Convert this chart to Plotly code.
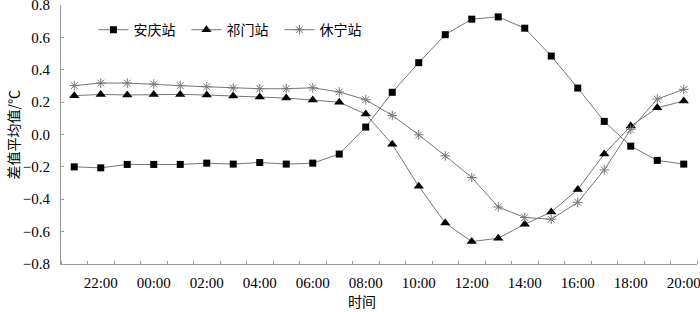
import plotly.graph_objects as go

hours = ["21:00", "22:00", "23:00", "00:00", "01:00", "02:00", "03:00", "04:00",
         "05:00", "06:00", "07:00", "08:00", "09:00", "10:00", "11:00", "12:00",
         "13:00", "14:00", "15:00", "16:00", "17:00", "18:00", "19:00", "20:00"]

anqing = [-0.200, -0.206, -0.185, -0.185, -0.185, -0.177, -0.183, -0.173,
          -0.183, -0.177, -0.121, 0.046, 0.261, 0.444, 0.617, 0.713,
          0.727, 0.657, 0.485, 0.287, 0.081, -0.072, -0.160, -0.183]

qimen = [0.240, 0.248, 0.244, 0.248, 0.248, 0.244, 0.238, 0.232,
         0.225, 0.213, 0.199, 0.126, -0.061, -0.320, -0.547, -0.662,
         -0.641, -0.555, -0.479, -0.340, -0.120, 0.052, 0.165, 0.207]

xiuning = [0.302, 0.318, 0.318, 0.312, 0.302, 0.295, 0.287, 0.283,
           0.283, 0.289, 0.263, 0.215, 0.118, -0.002, -0.132, -0.266,
           -0.448, -0.513, -0.524, -0.419, -0.219, 0.032, 0.219, 0.279]

series_names = ["安庆站", "祁门站", "休宁站"]
y_ticks = [-0.8, -0.6, -0.4, -0.2, 0.0, 0.2, 0.4, 0.6, 0.8]

x = list(range(len(hours)))
label_idx = [i for i, h in enumerate(hours) if int(h[:2]) % 2 == 0]

SERIF = "Liberation Serif, DejaVu Serif, serif"
CJK = "Noto Sans CJK SC"
LINE = "#767676"

fig = go.Figure()
fig.add_trace(go.Scatter(x=x, y=anqing, name=series_names[0], mode="lines+markers",
                         line=dict(color=LINE, width=1),
                         marker=dict(symbol="square", size=7, color="black")))
fig.add_trace(go.Scatter(x=x, y=qimen, name=series_names[1], mode="lines+markers",
                         line=dict(color=LINE, width=1),
                         marker=dict(symbol="triangle-up", size=9, color="black")))
fig.add_trace(go.Scatter(x=x, y=xiuning, name=series_names[2], mode="lines+markers",
                         line=dict(color=LINE, width=1),
                         marker=dict(symbol="asterisk-open", size=8,
                                     line=dict(color="#444444", width=1))))

fig.update_layout(
    width=700, height=312,
    margin=dict(l=61, r=3, t=5, b=48.4),
    paper_bgcolor="white", plot_bgcolor="white",
    font=dict(family=SERIF, size=15, color="black"),
    showlegend=True,
    legend=dict(orientation="h", x=0.051, y=0.903, xanchor="left", yanchor="middle",
                font=dict(family=CJK, size=14, color="black"),
                bgcolor="rgba(0,0,0,0)", entrywidth=48),
    xaxis=dict(range=[-0.5, len(hours) - 0.5], showgrid=False, zeroline=False,
               showline=True, linecolor="#999999", linewidth=1, automargin=False,
               tickmode="array", tickvals=label_idx,
               ticktext=[hours[i] for i in label_idx],
               ticks="", ticklabelstandoff=5, ticklabeloverflow="allow",
               tickfont=dict(family=SERIF, size=15, color="black"),
               minor=dict(tickmode="array",
                          tickvals=[i - 0.5 for i in range(len(hours) + 1)],
                          ticks="inside", ticklen=3, tickcolor="#999999")),
    yaxis=dict(range=[-0.8005, 0.8005], showgrid=False, zeroline=False,
               showline=True, linecolor="#999999", linewidth=1, automargin=False,
               tickmode="array", tickvals=y_ticks,
               ticktext=[("\u2212" if v < 0 else "") + f"{abs(v):.1f}" for v in y_ticks],
               ticks="inside", ticklen=3, tickcolor="#999999",
               ticklabelstandoff=7, ticklabeloverflow="allow",
               tickfont=dict(family=SERIF, size=15, color="black")),
    annotations=[
        dict(text="差值平均值/℃", xref="paper", yref="paper", x=-0.077, y=0.5,
             xanchor="center", yanchor="middle", textangle=-90, showarrow=False,
             font=dict(family=CJK, size=14, color="black")),
        dict(text="时间", xref="paper", yref="paper", x=(362 - 61) / 636, y=-0.141,
             xanchor="center", yanchor="middle", showarrow=False,
             font=dict(family=CJK, size=14, color="black")),
    ],
)

fig.write_html("out.html", config={"displayModeBar": False},
               post_script="document.body.style.margin='0';document.body.style.padding='0';")
